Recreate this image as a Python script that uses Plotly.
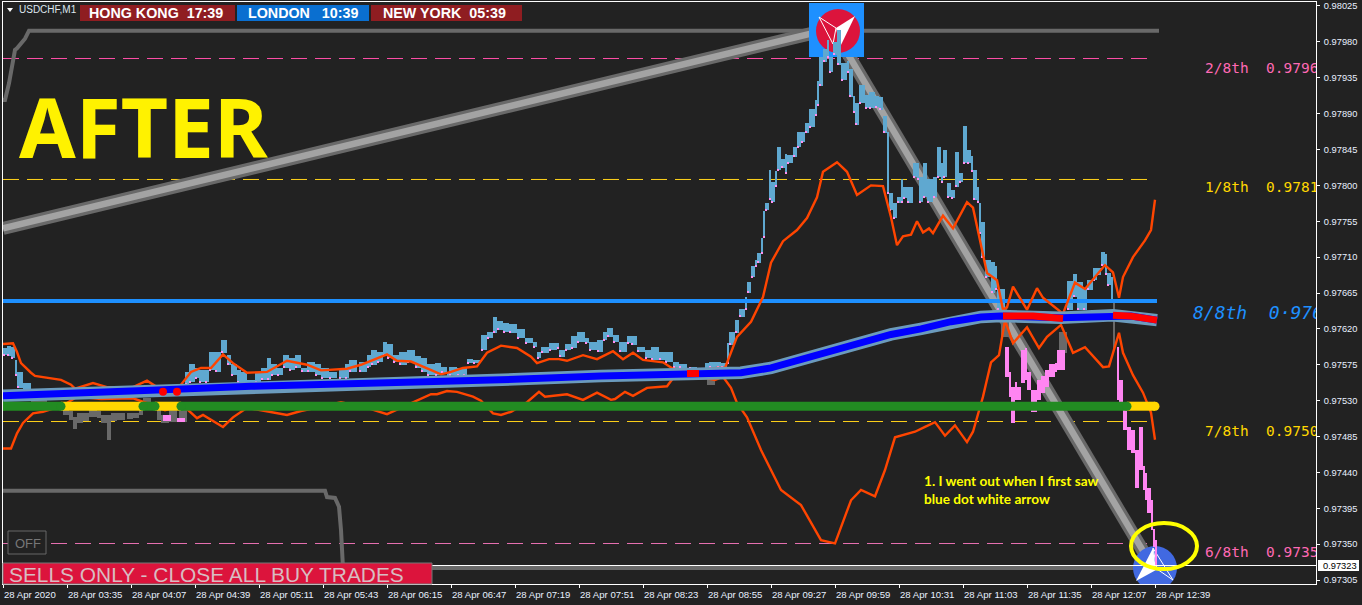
import plotly.graph_objects as go

# All prices are in points (1 point = 0.00001), x is minutes after 03:03 on 28 Apr 2020
SCALE = 1e5
TICK_MIN = list(range(0, 577, 32))
TICK_TEXT = ["28 Apr 2020", "28 Apr 03:35", "28 Apr 04:07", "28 Apr 04:39", "28 Apr 05:11", "28 Apr 05:43",
             "28 Apr 06:15", "28 Apr 06:47", "28 Apr 07:19", "28 Apr 07:51", "28 Apr 08:23", "28 Apr 08:55",
             "28 Apr 09:27", "28 Apr 09:59", "28 Apr 10:31", "28 Apr 11:03", "28 Apr 11:35", "28 Apr 12:07", "28 Apr 12:39"]
Y_TICKS = [97305, 97350, 97395, 97440, 97485, 97530, 97575, 97620, 97665, 97710, 97755, 97800, 97845, 97890, 97935, 97980, 98025]

upper_min = [0,5,7,9,14,16,29,34,36,45,52,65,72,77,83,89,94,99,104,110,115,122,132,142,152,159,172,179,192,197,204,214,219,224,230,237,242,249,257,264,267,273,278,282,290,297,305,310,315,320,330,335,347,357,361,367,374,380,384,390,397,402,407,410,417,422,427,434,440,444,447,450,454,457,460,463,465,470,475,482,485,492,497,500,502,505,512,517,520,530,536,541,551,555,558,560,565,571,574,576]
upper_val = [97601,97602,97591,97577,97565,97561,97556,97550,97545,97552,97547,97547,97555,97547,97541,97550,97566,97571,97571,97588,97577,97565,97566,97580,97575,97568,97570,97575,97588,97580,97579,97568,97563,97566,97571,97573,97590,97599,97596,97585,97577,97582,97582,97580,97587,97582,97592,97582,97590,97581,97578,97570,97568,97571,97571,97610,97629,97660,97703,97730,97744,97759,97785,97817,97829,97817,97788,97800,97799,97760,97725,97736,97738,97755,97741,97746,97740,97762,97746,97779,97772,97690,97681,97644,97647,97673,97644,97671,97659,97639,97678,97670,97700,97691,97659,97685,97710,97731,97744,97782]

lower_min = [0,4,7,10,15,20,30,37,49,65,72,81,90,97,100,110,115,122,142,149,169,182,192,205,214,217,222,227,235,239,245,249,254,262,268,271,282,290,297,304,306,311,315,322,332,335,344,352,356,360,364,367,372,379,389,399,409,416,424,429,436,441,446,451,456,461,466,471,476,482,485,490,494,498,501,505,512,518,522,529,535,541,550,553,556,558,560,565,570,574,576]
lower_val = [97470,97470,97489,97502,97514,97516,97524,97535,97532,97533,97527,97518,97524,97508,97512,97497,97509,97521,97512,97517,97528,97521,97513,97528,97538,97538,97542,97541,97535,97530,97514,97512,97516,97528,97541,97535,97538,97531,97540,97531,97532,97541,97536,97546,97548,97558,97558,97558,97556,97560,97546,97527,97509,97468,97418,97399,97355,97351,97405,97418,97410,97443,97484,97488,97491,97497,97503,97486,97499,97478,97491,97535,97578,97587,97631,97602,97622,97596,97610,97625,97590,97597,97572,97573,97597,97615,97590,97562,97540,97515,97481]

ma_min = [0,29,74,124,174,214,259,299,339,369,384,399,414,429,444,459,474,489,499,529,555,564,577]
ma_val = [97536,97538,97543,97548,97551,97553,97557,97561,97563,97565,97571,97582,97593,97603,97613,97620,97629,97635,97636,97634,97637,97636,97631]
ma_red_segments = [([342,348],[97564,97564]), ([500,515,530],[97636,97636,97633]), ([555,564,577],[97637,97636,97631])]
ma_red_dots_min = [80, 87]
ma_red_dots_val = [97541, 97541]

blue_min = [0,2,4,6,7,10,91,93,96,98,101,103,106,109,112,114,117,119,122,126,129,132,134,137,140,143,146,149,152,156,159,163,168,171,173,178,182,184,187,190,192,195,198,202,206,209,212,216,219,222,223,227,230,232,235,239,242,245,247,250,253,257,261,265,267,269,273,277,278,281,284,287,291,293,297,300,302,305,308,312,314,317,321,324,328,331,335,338,343,351,353,357,359,362,363,366,368,371,372,374,376,377,379,380,381,383,384,386,387,389,391,392,395,397,399,401,403,406,407,408,410,412,413,415,417,419,422,423,425,426,428,431,433,436,438,440,442,443,445,447,449,450,452,455,457,458,460,462,465,467,469,470,472,474,476,478,480,482,484,485,487,488,489,491,494,496,497,532,535,537,540,542,545,547,549,551,552,554]
blue_high = [97595,97598,97597,97581,97565,97552,97566,97575,97571,97568,97568,97590,97590,97606,97587,97575,97568,97566,97556,97566,97571,97583,97575,97571,97587,97583,97587,97571,97578,97575,97571,97566,97571,97575,97581,97578,97587,97593,97591,97603,97600,97587,97591,97593,97585,97583,97575,97577,97572,97566,97572,97571,97571,97582,97581,97612,97616,97635,97629,97627,97625,97619,97608,97603,97591,97597,97602,97602,97593,97600,97610,97615,97608,97603,97606,97615,97621,97612,97603,97610,97610,97597,97593,97597,97591,97591,97578,97575,97572,97577,97578,97578,97577,97602,97615,97631,97644,97660,97678,97698,97706,97715,97734,97767,97778,97819,97804,97817,97848,97832,97839,97838,97848,97866,97866,97878,97895,97907,97930,97960,97970,97982,97961,97979,97995,97953,97955,97945,97911,97903,97926,97913,97917,97911,97910,97886,97866,97790,97778,97785,97807,97797,97798,97828,97828,97810,97828,97807,97810,97848,97828,97844,97803,97794,97841,97815,97874,97844,97836,97819,97797,97778,97753,97706,97703,97698,97669,97679,97688,97678,97669,97681,97696,97696,97716,97713,97690,97685]
blue_low = [97587,97586,97583,97562,97546,97543,97550,97553,97558,97553,97553,97568,97566,97590,97575,97562,97553,97550,97550,97553,97556,97556,97562,97562,97571,97568,97571,97566,97566,97562,97558,97558,97558,97558,97566,97566,97572,97575,97578,97587,97583,97578,97575,97578,97571,97566,97562,97562,97565,97558,97562,97562,97562,97577,97577,97593,97608,97615,97619,97616,97615,97608,97602,97597,97583,97590,97593,97596,97585,97593,97596,97603,97602,97593,97591,97606,97610,97603,97591,97602,97600,97591,97583,97581,97581,97578,97571,97571,97570,97568,97571,97571,97571,97577,97600,97615,97635,97644,97665,97685,97698,97703,97715,97735,97769,97782,97779,97798,97819,97822,97815,97828,97836,97848,97854,97866,97873,97888,97900,97925,97955,97961,97942,97964,97951,97932,97941,97911,97892,97876,97903,97897,97897,97898,97895,97866,97790,97769,97759,97778,97778,97784,97778,97810,97807,97779,97785,97779,97785,97810,97803,97810,97785,97784,97798,97804,97828,97828,97817,97782,97779,97740,97710,97685,97665,97669,97644,97644,97660,97644,97644,97669,97681,97688,97700,97688,97675,97656]

gray_min = [14,18,30,33,35,37,40,43,47,49,52,54,57,62,65,68,70,77,79,83,88,352,499,528,555]
gray_high = [97531,97531,97518,97516,97509,97514,97514,97518,97516,97512,97511,97514,97514,97514,97514,97521,97533,97518,97512,97518,97518,97558,97631,97615,97656]
gray_low = [97527,97527,97512,97506,97494,97502,97504,97509,97508,97502,97481,97504,97506,97507,97508,97512,97518,97506,97502,97503,97503,97550,97610,97590,97593]

pink_min = [80,87,501,503,504,506,507,509,511,512,514,517,519,521,523,526,527,557,558,560,562,564,566,568,570,571,572,574,575,576]
pink_high = [97511,97508,97597,97565,97547,97553,97547,97593,97596,97565,97543,97556,97560,97568,97575,97577,97593,97597,97556,97518,97497,97493,97468,97496,97447,97439,97420,97405,97368,97355]
pink_low = [97505,97503,97560,97535,97502,97531,97531,97552,97556,97543,97516,97531,97540,97547,97560,97566,97568,97531,97518,97493,97468,97464,97420,97443,97418,97405,97389,97368,97347,97324]

trend_up_min = [0, 405]
trend_up_val = [97746, 97991]
trend_dn_min = [416, 572]
trend_dn_val = [97992, 97333]
step_top_min = [0,1,3,6,7,11,13,578]
step_top_val = [97907,97907,97928,97970,97972,97984,97994,97994]
step_low_min = [0,161,162,166,168,169,170,577]
step_low_val = [97417,97417,97409,97408,97397,97368,97320,97320]
hline_min = [0, 577]
hline_val = [97655, 97655]
bid_price = 97323.2
pivot_levels = [97959.1, 97807.4, 97503.8, 97350.8]
pivot_colors = ["#ff4fa8", "#ffd21a", "#ffd21a", "#e66fb0"]
pivot_end_min = 573

green_level = 97523
green_segments = [(0, 29), (70, 76), (89, 562)]
gold_segments = [(29, 70), (76, 89), (562, 576)]

level_labels = ["2/8th\u00a0\u00a00.9796", "1/8th\u00a0\u00a00.9781", "8/8th\u00a0\u00a00\u00b79765", "7/8th\u00a0\u00a00.9750", "6/8th\u00a0\u00a00.9735"]
level_label_min = [601, 601, 595, 601, 601]
level_label_val = [97946, 97796, 97637.5, 97490, 97338]
level_label_colors = ["#ff69b4", "#ffd700", "#1e90ff", "#ffd700", "#ff69b4"]

BG = "#222222"
W, H = 1362, 605
L, R, T, B = 3, 46, 2, 21
PW, PH = W - L - R, H - T - B


def X(px):
    return (px - 3) / 2


def Y(py):
    return (98032.5 - 1.2544 * py) / SCALE


def PX(px):
    return (px - L) / PW


def PY(py):
    return 1 - (py - T) / PH


def prices(values):
    return [v / SCALE for v in values]


def widths(xs):
    out = []
    for i, x in enumerate(xs):
        gap = xs[i + 1] - x if i + 1 < len(xs) else 1
        out.append(max(1, min(gap, 4)))
    return out


def bars(xs, highs, lows, color):
    return go.Bar(x=xs, y=[(h - l + 0.5) / SCALE for h, l in zip(highs, lows)], base=prices(lows),
                  width=widths(xs), offset=0, marker=dict(color=color, line=dict(width=0)), hoverinfo="skip")


def line(xs, ys, color, width):
    return go.Scatter(x=xs, y=prices(ys), mode="lines", line=dict(color=color, width=width), hoverinfo="skip")


def dots(xs, ys, color, size):
    return go.Scatter(x=xs, y=prices(ys), mode="markers", marker=dict(color=color, size=size, line=dict(width=0)), hoverinfo="skip")


def path_shape(xs, ys, color, width):
    d = "M" + " L".join(f"{x},{y / SCALE}" for x, y in zip(xs, ys))
    return dict(type="path", path=d, xref="x", yref="y", line=dict(color=color, width=width), layer="below")


def poly(points, fill=None, line_color=None, width=0, layer="below"):
    d = "M" + " L".join(f"{X(a)},{Y(b)}" for a, b in points) + " Z"
    return dict(type="path", path=d, xref="x", yref="y", fillcolor=fill or "rgba(0,0,0,0)",
                line=dict(color=line_color or "rgba(0,0,0,0)", width=width), layer=layer)


def box(x0, y0, x1, y1, fill, line_color=None, width=0, layer="above"):
    return dict(type="rect", xref="paper", yref="paper", x0=PX(x0), x1=PX(x1), y0=PY(y0), y1=PY(y1),
                fillcolor=fill, line=dict(color=line_color or "rgba(0,0,0,0)", width=width), layer=layer)


def circle(cx, cy, rx, ry, fill=None, line_color=None, width=0, layer="below"):
    return dict(type="circle", xref="x", yref="y", x0=X(cx - rx), x1=X(cx + rx), y0=Y(cy + ry), y1=Y(cy - ry),
                fillcolor=fill or "rgba(0,0,0,0)", line=dict(color=line_color or "rgba(0,0,0,0)", width=width), layer=layer)


def note(text, px, py, size, color, family="Liberation Sans", bold=False, anchor="left"):
    return dict(text=f"<b>{text}</b>" if bold else text, x=PX(px), y=PY(py), xref="paper", yref="paper",
                xanchor=anchor, yanchor="middle", showarrow=False, borderpad=0,
                font=dict(size=size, color=color, family=family))


shapes = []
for level, color in zip(pivot_levels, pivot_colors):
    shapes.append(dict(type="line", xref="x", yref="y", x0=0, x1=pivot_end_min, y0=level / SCALE, y1=level / SCALE,
                       line=dict(color=color, width=1, dash="16px,8px"), layer="below"))
shapes.append(path_shape(step_top_min, step_top_val, "#696969", 4))
shapes.append(path_shape(step_low_min, step_low_val, "#696969", 4))
for xs, ys in ((trend_up_min, trend_up_val), (trend_dn_min, trend_dn_val)):
    shapes.append(path_shape(xs, ys, "#696969", 13))
    shapes.append(path_shape(xs, ys, "#a3a3a3", 6.5))
# Sell logo at the high
shapes.append(dict(type="rect", xref="x", yref="y", x0=X(809), x1=X(864), y0=Y(57), y1=Y(3), fillcolor="#1e90ff",
                   line=dict(width=0), layer="below"))
shapes.append(circle(838, 31, 22, 22, fill="#dc143c"))
shapes.append(poly([(855, 16), (836, 28), (840, 47)], fill="#ffffff"))
shapes.append(poly([(819, 17), (836, 28), (833, 44)], line_color="#ffffff", width=1))
# Buy logo at the low
shapes.append(circle(1155, 568, 22, 22, fill="#4169e1"))
shapes.append(poly([(1153, 548), (1136, 581), (1156, 570)], fill="#ffffff"))
shapes.append(poly([(1153, 548), (1173, 580), (1157, 569)], line_color="#ffffff", width=1))
# Bid line and overlays
shapes.append(dict(type="line", xref="x", yref="y", x0=0, x1=X(1316), y0=bid_price / SCALE, y1=bid_price / SCALE,
                   line=dict(color="#ffffff", width=1), layer="above"))
shapes.append(circle(1164, 546, 33, 23, line_color="#ffff00", width=4, layer="above"))
shapes.append(box(3, 563, 432, 584, "#dc143c", "#777777", 1))
shapes.append(box(8, 531, 46, 554, BG, "#666666", 1))
shapes.append(box(80, 5, 235, 21, "#8f1d21"))
shapes.append(box(237, 5, 369, 21, "#0a6fd0"))
shapes.append(box(371, 5, 522, 21, "#8f1d21"))
shapes.append(box(1318, 560, 1359, 571, "#ffffff"))
shapes.append(poly([(7, 8), (13, 8), (10, 12)], fill="#ffffff", layer="above"))

annotations = [
    note("USDCHF,M1", 18, 10, 10, "#dfe6ee"),
    note("HONG KONG\u00a0\u00a017:39", 88, 13, 14.3, "#ffffff", bold=True),
    note("LONDON\u00a0\u00a0\u00a010:39", 247, 13, 14.3, "#ffffff", bold=True),
    note("NEW YORK\u00a0\u00a005:39", 382, 13, 14.3, "#ffffff", bold=True),
    note("AFTER", 18, 126, 82, "#fff200", family="Noto Sans", bold=True),
    note("1. I went out when I first saw", 923, 481, 13.6, "#ffff00", family="Lato", bold=True),
    note("blue dot white arrow", 923, 499, 13.6, "#ffff00", family="Lato", bold=True),
    note("SELLS ONLY - CLOSE ALL BUY TRADES", 8, 574, 20.9, "#d8bcc2"),
    note("OFF", 14, 543, 13, "#777777"),
    note("0.97323", 1322, 565.5, 9.3, "#000000"),
]

traces = [
    bars(blue_min, blue_high, blue_low, "#5fa8d0"),
    go.Bar(x=blue_min, y=[1.5 / SCALE] * len(blue_min), base=prices(blue_low), width=0.6, offset=0,
           marker=dict(color="#ff90f0", line=dict(width=0)), hoverinfo="skip"),
    bars(gray_min, gray_high, gray_low, "#696969"),
    bars(pink_min, pink_high, pink_low, "#ff85f2"),
    line(hline_min, hline_val, "#1e90ff", 4),
    line(upper_min, upper_val, "#ff4500", 2.4),
    line(lower_min, lower_val, "#ff4500", 2.4),
    line(ma_min, ma_val, "#6b9bbd", 12.5),
    line(ma_min, ma_val, "#0000ff", 7),
]
for xs, ys in ma_red_segments:
    traces.append(line(xs, ys, "#ff0000", 7))
traces.append(dots(ma_red_dots_min, ma_red_dots_val, "#ff0000", 8))
for a, b in gold_segments:
    traces.append(line([a, b], [green_level, green_level], "#ffd700", 9))
traces.append(dots([576], [green_level], "#ffd700", 9))
for a, b in green_segments:
    traces.append(line([a, b], [green_level, green_level], "#228b22", 9))
    traces.append(dots([a, b], [green_level, green_level], "#228b22", 9))
traces.append(go.Scatter(x=level_label_min[:2] + level_label_min[3:], y=prices(level_label_val[:2] + level_label_val[3:]),
                         mode="text", text=level_labels[:2] + level_labels[3:], textposition="middle right",
                         textfont=dict(family="DejaVu Sans Mono", size=14.5,
                                       color=level_label_colors[:2] + level_label_colors[3:]),
                         cliponaxis=True, hoverinfo="skip"))
traces.append(go.Scatter(x=level_label_min[2:3], y=prices(level_label_val[2:3]), mode="text", text=level_labels[2:3],
                         textposition="middle right",
                         textfont=dict(family="DejaVu Sans Mono", size=18, style="italic", color=level_label_colors[2]),
                         cliponaxis=True, hoverinfo="skip"))

fig = go.Figure(traces)
fig.update_layout(
    width=W, height=H, margin=dict(l=L, r=R, t=T, b=B, pad=0, autoexpand=False), paper_bgcolor=BG, plot_bgcolor=BG,
    showlegend=False, barmode="overlay", bargap=0, shapes=shapes, annotations=annotations,
    font=dict(family="Liberation Sans", color="#e8f0ff", size=10),
    xaxis=dict(range=[0, 656.5], tickmode="array", tickvals=TICK_MIN, ticktext=TICK_TEXT, showgrid=False, zeroline=False,
               ticks="outside", ticklen=3, tickcolor="#ffffff", showline=True, linecolor="#ffffff", linewidth=1, mirror=True,
               tickangle=0, automargin=False, ticklabelposition="outside right", ticklabelstandoff=1,
               tickfont=dict(size=9.6, color="#e8f0ff", family="Liberation Sans"), fixedrange=True),
    yaxis=dict(range=[0.97300, 0.98030], side="right", tickmode="array", tickvals=prices(Y_TICKS),
               ticktext=[f"{v / SCALE:.5f}" for v in Y_TICKS], showgrid=False, zeroline=False, automargin=False,
               ticks="outside", ticklen=3, tickcolor="#ffffff", showline=True, linecolor="#ffffff", linewidth=1, mirror=True,
               ticklabelstandoff=2, tickfont=dict(size=9.3, color="#e8f0ff", family="Liberation Sans"), fixedrange=True),
)
fig.write_html("out.html", config=dict(displayModeBar=False),
               post_script="document.body.style.margin='0';document.body.style.background='#222222';document.body.style.overflow='hidden';")
